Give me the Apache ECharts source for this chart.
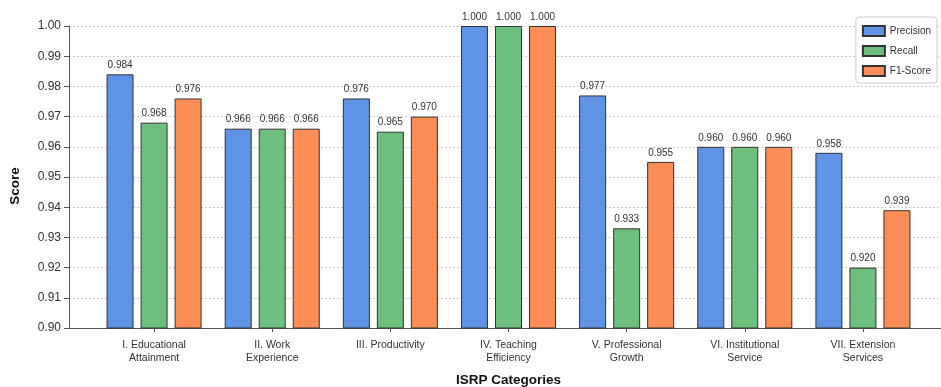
<!DOCTYPE html>
<html>
<head>
<meta charset="utf-8">
<script src="https://cdn.jsdelivr.net/npm/echarts@6/dist/echarts.min.js"></script>
<style>html,body{margin:0;padding:0;background:#fff}#c{width:941px;height:387px}</style>
</head>
<body>
<div id="c"></div>
<script>
const categories = ['I. Educational\nAttainment','II. Work\nExperience','III. Productivity','IV. Teaching\nEfficiency','V. Professional\nGrowth','VI. Institutional\nService','VII. Extension\nServices'];
const precision = [0.984, 0.966, 0.976, 1.000, 0.977, 0.960, 0.958];
const recall    = [0.968, 0.966, 0.965, 1.000, 0.933, 0.960, 0.920];
const f1score   = [0.976, 0.966, 0.970, 1.000, 0.955, 0.960, 0.939];
const seriesNames = ['Precision','Recall','F1-Score'];
const colors = ['#5f93e6','#6dbf7d','#fd8d57'];
const yMin = 0.90, yMax = 1.00, yStep = 0.01;

const chart = echarts.init(document.getElementById('c'), null, {renderer:'canvas'});
const font = 'Liberation Sans, Arial, sans-serif';
function mk(name, data, i){
  return {
    name: name, type: 'bar', xAxisIndex: 0, yAxisIndex: 0,
    data: data, barWidth: 27, barGap: '26%',
    itemStyle: {color: colors[i], borderColor: '#333', borderWidth: 1},
    label: {show: true, position: 'top', distance: 4, fontSize: 10, color: '#333', fontFamily: font,
      formatter: p => p.value.toFixed(3)}
  };
}
chart.setOption({
  animation: false,
  textStyle: {fontFamily: font},
  grid: [
    {left: 95, right: 19, top: 26, bottom: 59, containLabel: false, outerBoundsMode: 'none'},
    {left: 69, right: 0, top: 26, bottom: 59, containLabel: false, outerBoundsMode: 'none'}
  ],
  legend: {
    orient: 'vertical', right: 4, top: 17, itemWidth: 22, itemHeight: 10, itemGap: 8,
    icon: 'rect',
    borderColor: '#ccc', borderWidth: 1, borderRadius: 3, padding: [8, 6, 6, 6],
    backgroundColor: '#fff',
    textStyle: {fontSize: 10, color: '#333', fontFamily: font},
    data: seriesNames
  },
  xAxis: [
    {type: 'category', gridIndex: 0, data: categories,
     axisLine: {show: false}, axisTick: {show: true, alignWithLabel: true, length: 4, lineStyle: {color: '#555'}},
     axisLabel: {fontSize: 10.5, color: '#333', lineHeight: 13, margin: 11, interval: 0, fontFamily: font},
     name: 'ISRP Categories', nameLocation: 'middle', nameGap: 45,
     nameTextStyle: {fontSize: 13.5, fontWeight: 'bold', color: '#111', fontFamily: font}},
    {type: 'value', gridIndex: 1, min: 0, max: 1, show: true,
     axisLine: {show: true, lineStyle: {color: '#555', width: 1}}, axisTick: {show: false},
     axisLabel: {show: false}, splitLine: {show: false}}
  ],
  yAxis: [
    {type: 'value', gridIndex: 0, min: yMin, max: yMax, interval: yStep, show: false, splitLine: {show: false}},
    {type: 'value', gridIndex: 1, min: yMin, max: yMax, interval: yStep,
     axisLine: {show: true, lineStyle: {color: '#555', width: 1}},
     axisTick: {show: true, length: 5, lineStyle: {color: '#555'}},
     axisLabel: {fontSize: 12, color: '#333', margin: 8, fontFamily: font, formatter: v => v.toFixed(2)},
     splitLine: {show: true, lineStyle: {color: '#ccc', type: [2, 2], width: 1}},
     name: 'Score', nameLocation: 'middle', nameGap: 47,
     nameTextStyle: {fontSize: 13.5, fontWeight: 'bold', color: '#111', fontFamily: font, padding: [0, 0, 0, -18]}}
  ],
  series: [mk(seriesNames[0], precision, 0), mk(seriesNames[1], recall, 1), mk(seriesNames[2], f1score, 2)]
});
</script>
</body>
</html>
